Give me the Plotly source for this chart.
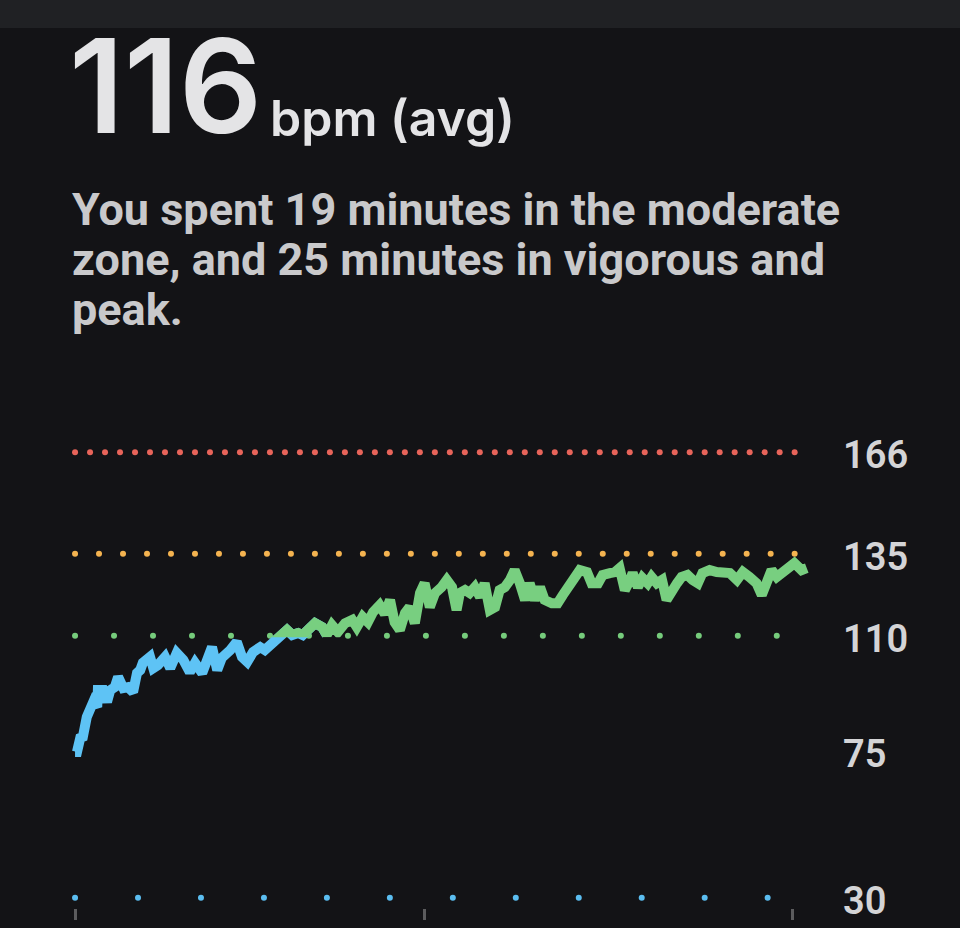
import numpy as np
import plotly.graph_objects as go

# heart rate trace, minutes from start / bpm
minutes = [
    0, 0.15, 0.4, 0.6, 0.9, 1.15, 1.4, 1.7, 1.75, 2.15, 2.45, 2.7, 3.05, 3.3, 3.7,
    4.05, 4.45, 4.75, 5.0, 5.2, 5.75, 6.0, 6.35, 6.9, 7.3, 7.8, 8.3, 8.8, 9.2, 9.75,
    10.1, 10.5, 10.9, 11.25, 11.9, 12.4, 12.8, 13.2, 13.65,
    14.2, 14.55, 14.95, 15.35, 15.7, 16.25, 16.65, 17.1, 17.45, 18.0, 18.4, 18.95,
    19.3, 19.7, 20.15, 20.7, 21.25, 21.6, 22.05, 22.45, 22.85, 23.35, 23.75, 24.15,
    24.5, 24.9, 25.3, 25.65, 26.05, 26.45,
    26.8, 27.2, 27.6, 28.1, 28.5, 28.9, 29.25, 29.5, 29.9, 30.25, 30.65, 31.05, 31.4,
    31.8, 32.2, 32.55, 32.95, 33.35, 33.7, 34.1, 34.5, 34.85, 35.25, 35.65, 36.0,
    36.55, 37.0, 37.4, 37.8, 38.15, 38.7, 39.25, 39.6, 40.1, 40.45,
    41.0, 41.4, 41.75, 42.15, 42.55, 42.75, 43.15, 43.5, 43.9, 44.2, 44.6, 45.0,
    45.35, 45.75, 46.15, 46.5, 46.95, 47.35, 47.75, 48.1, 48.65, 49.2, 49.65, 50.2,
    50.75, 51.2, 51.7, 52.25, 52.65, 53.05, 53.4, 53.8, 54.25, 54.8, 55.15, 55.7, 56.1,
]
bpm = [
    74.5, 74.5, 78.8, 79.1, 85.2, 88.8, 89.8, 88.2, 93.4, 93.4, 89.8, 93.4, 94.3, 97.4, 94.0,
    94.3, 92.8, 98.6, 99.5, 101.7, 103.5, 100.1, 101.0, 103.5, 100.1, 104.7, 102.6, 98.9, 101.7, 98.6,
    101.7, 106.5, 99.5, 103.2, 105.6, 108.1, 103.5, 102.0, 105.0,
    106.5, 105.6, 107.1, 107.7, 109.3, 111.7, 110.2, 110.8, 110.2, 112.6, 113.8, 112.6,
    110.2, 113.2, 111.1, 113.8, 114.8, 112.6, 115.7, 114.1, 117.2, 119.3, 116.6, 120.9,
    114.1, 111.7, 116.9, 118.7, 113.8, 123.0,
    126.0, 118.7, 123.0, 124.8, 127.0, 124.8, 117.8, 123.0, 123.9, 123.0, 124.8, 121.8, 126.0,
    117.8, 118.7, 123.9, 124.8, 127.0, 130.0, 126.0, 120.9, 126.0, 120.9, 124.8, 120.9,
    119.9, 119.9, 122.4, 124.8, 126.0, 130.0, 129.4, 126.0, 126.0, 128.5,
    129.1, 129.4, 130.6, 123.9, 127.0, 129.1, 124.8, 127.6, 126.0, 127.9, 126.0, 127.0,
    120.9, 123.9, 126.0, 127.9, 128.5, 127.0, 126.0, 129.1, 130.0, 129.4, 129.4, 129.1,
    127.0, 129.4, 127.9, 126.0, 122.4, 127.0, 130.0, 127.9, 129.1, 130.9, 132.1, 130.0, 130.6,
]

zone_bpm = [166, 135, 110, 30]
zone_colors = ["#e8645a", "#f4b350", "#76cc7c", "#5bbdf0"]
zone_dots = [49, 31, 19, 12]
zone_last = [55.17, 55.17, 53.8, 53.1]

axis_labels = [166, 135, 110, 75, 30]
time_ticks = [0, 26.8, 55.0]
blue_end = 19.3       # blue segment stops here
green_from = 109.5    # line drawn green above this bpm

summary_lines = [
    "You spent 19 minutes in the moderate",
    "zone, and 25 minutes in vigorous and",
    "peak.",
]

BG = "#131316"
W, H = 960, 928
L, R, T, B = 65, 148, 440, 20
y_lo, y_hi = 26.9, 169.7
x_lo, x_hi = -0.77, 56.5


def fx(px):
    return (px - L) / (W - L - R)


def fy(py):
    return (H - B - py) / (H - T - B)


fig = go.Figure()

for v, c, n, last in zip(zone_bpm, zone_colors, zone_dots, zone_last):
    xs = np.linspace(0, last, n)
    fig.add_trace(go.Scatter(
        x=xs, y=[v] * n, mode="markers",
        marker=dict(color=c, size=6, line=dict(width=0)),
        hoverinfo="skip", showlegend=False,
    ))

t = np.array(minutes)
h = np.array(bpm)
m = t <= blue_end
fig.add_trace(go.Scatter(
    x=t[m], y=h[m], mode="lines",
    line=dict(color="#5ec3f5", width=10),
    showlegend=False,
))
# same trace again on an axis whose domain starts at the zone line, so it clips
fig.add_trace(go.Scatter(
    x=t, y=h, mode="lines", yaxis="y2",
    line=dict(color="#78cf80", width=10),
    showlegend=False,
))

split = (green_from - y_lo) / (y_hi - y_lo)

annots = [
    dict(
        text="116", x=fx(67), y=fy(85),
        font=dict(family="Inter", size=130, color="#e4e4e6", weight=600),
    ),
    dict(
        text="bpm (avg)", x=fx(268), y=fy(118),
        font=dict(family="Inter", size=50, color="#e4e4e6", weight=600),
    ),
]
for i, s in enumerate(summary_lines):
    annots.append(dict(
        text=s, x=fx(70), y=fy(209 + 50 * i),
        font=dict(family="Roboto", size=45, color="#c9c9cb", weight=700),
    ))
for a in annots:
    a.update(xref="paper", yref="paper", xanchor="left", yanchor="middle",
             align="left", showarrow=False)

fig.update_layout(
    width=W, height=H,
    margin=dict(l=L, r=R, t=T, b=B),
    paper_bgcolor=BG, plot_bgcolor="rgba(0,0,0,0)",
    xaxis=dict(
        range=[x_lo, x_hi], showgrid=False, zeroline=False, showline=False,
        tickvals=time_ticks, showticklabels=False, automargin=False,
        ticks="outside", ticklen=11, tickwidth=3, tickcolor="#5c5c5e",
    ),
    yaxis=dict(
        range=[y_lo, y_hi], domain=[0, 1], side="right", automargin=False,
        showgrid=False, zeroline=False, showline=False,
        tickvals=axis_labels, ticks="", ticklabelstandoff=30, ticklabelshift=3,
        tickfont=dict(family="Roboto", size=38, color="#d4d4d6", weight=600),
    ),
    yaxis2=dict(
        range=[green_from, y_hi], domain=[split, 1], anchor="x",
        visible=False, automargin=False,
    ),
    shapes=[dict(
        type="rect", xref="paper", yref="paper",
        x0=fx(0), x1=fx(W), y0=fy(28), y1=fy(0),
        fillcolor="#202124", line=dict(width=0), layer="below",
    )],
    annotations=annots,
)

fig.write_html(
    "out.html",
    config={"displayModeBar": False},
    post_script="document.body.style.margin='0';document.body.style.background='#131316';",
)
